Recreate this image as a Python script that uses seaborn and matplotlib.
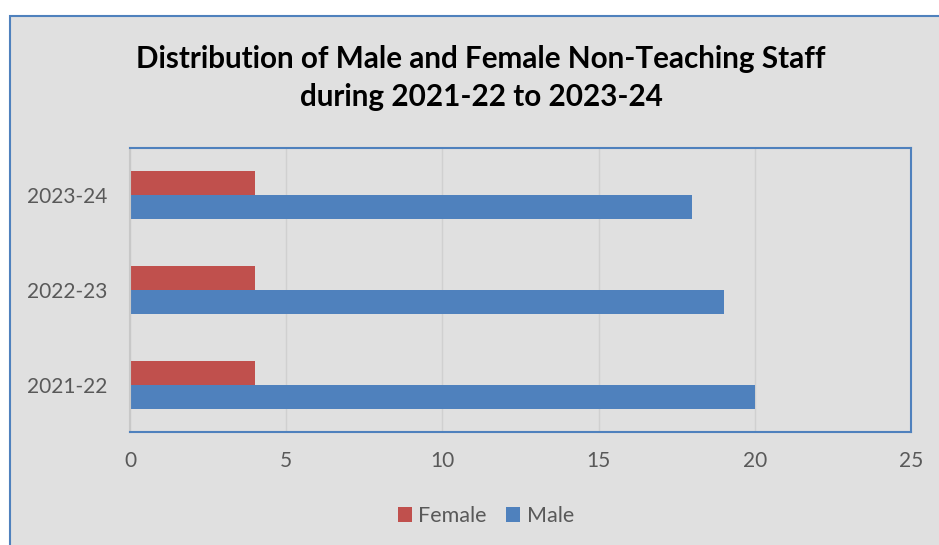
import pandas as pd
import matplotlib.pyplot as plt
import seaborn as sns
from matplotlib.patches import Rectangle

years = ["2023-24", "2022-23", "2021-22"]
female = [4, 4, 4]
male = [18, 19, 20]
genders = ["Female", "Male"]
x_ticks = [0, 5, 10, 15, 20, 25]

df = pd.DataFrame({
    "year": years * 2,
    "gender": ["Female"] * 3 + ["Male"] * 3,
    "count": female + male,
})

sns.set_style("white")
plt.rcParams["font.family"] = ["Lato", "DejaVu Sans"]

bg = "#E0E0E0"
blue_line = "#4F81BD"

fig = plt.figure(figsize=(9.39, 5.45), dpi=100)
fig.patch.set_facecolor("white")
# grey chart area with blue border, behind everything
frame = Rectangle((10 / 939, -0.01), 1.0, 1 - 16 / 545 + 0.01,
                  transform=fig.transFigure, facecolor=bg,
                  edgecolor=blue_line, linewidth=1.5, zorder=-10)
fig.add_artist(frame)

ax = fig.add_axes([130 / 939, 1 - 432 / 545, 781 / 939, 284 / 545])
ax.set_zorder(5)
ax.set_facecolor(bg)

sns.barplot(data=df, x="count", y="year", hue="gender", order=years,
            hue_order=genders, palette={"Female": "#C0504D", "Male": "#4F81BD"},
            width=0.51, orient="h", ax=ax, saturation=1, legend=True,
            linewidth=0)

ax.set_xlim(0, 25)
ax.set_xticks(x_ticks)
ax.set_xlabel("")
ax.set_ylabel("")
ax.tick_params(axis="both", length=0, labelsize=15, colors="#595959")
ax.tick_params(axis="y", pad=16)
ax.tick_params(axis="x", pad=14)
ax.grid(axis="x", color="#D0D0D0", linewidth=1)
ax.set_axisbelow(True)
for side in ["top", "right", "bottom"]:
    ax.spines[side].set_color(blue_line)
    ax.spines[side].set_linewidth(1.5)
ax.spines["left"].set_color("#C8C8C8")
ax.spines["left"].set_linewidth(1.5)

fig.text(481 / 939, 1 - 78 / 545,
         "Distribution of Male and Female Non-Teaching Staff\nduring 2021-22 to 2023-24",
         ha="center", va="center", fontsize=21.3, fontweight="bold", color="black",
         linespacing=1.45)

ax.legend_.remove()
handles, labels = ax.get_legend_handles_labels()
fig.legend(handles, labels, loc="center", bbox_to_anchor=(486 / 939, 1 - 516 / 545),
           ncol=2, frameon=False, fontsize=15.5, labelcolor="#595959",
           handlelength=0.65, handleheight=0.65, handletextpad=0.3,
           columnspacing=0.9)

plt.savefig("out.png", dpi=100, facecolor=fig.get_facecolor())
